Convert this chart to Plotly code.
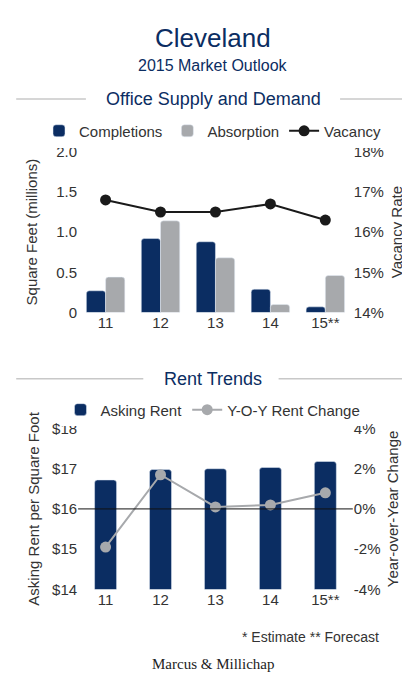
import plotly.graph_objects as go

years = ["11", "12", "13", "14", "15**"]
completions = [0.27, 0.92, 0.88, 0.29, 0.07]
absorption = [0.44, 1.14, 0.68, 0.10, 0.46]
vacancy = [16.8, 16.5, 16.5, 16.7, 16.3]
asking_rent = [16.72, 16.98, 17.00, 17.03, 17.18]
yoy_change = [-1.9, 1.7, 0.1, 0.2, 0.8]

NAVY = "#0b2d62"
GRAY = "#a7a9ac"
TXT = "#333333"
F = "Liberation Sans"

fig = go.Figure()
fig.add_bar(x=years, y=completions, name="Completions", marker_color=NAVY, xaxis="x", yaxis="y", legend="legend")
fig.add_bar(x=years, y=absorption, name="Absorption", marker_color=GRAY, xaxis="x", yaxis="y", legend="legend")
fig.add_scatter(x=years, y=vacancy, name="Vacancy", mode="lines+markers", line=dict(color="#1a1a1a", width=2),
                marker=dict(size=11, color="#1a1a1a"), xaxis="x", yaxis="y2", legend="legend")
fig.add_bar(x=years, y=asking_rent, name="Asking Rent", marker_color=NAVY, width=0.4,
            xaxis="x2", yaxis="y3", legend="legend2")
fig.add_scatter(x=years, y=yoy_change, name="Y-O-Y Rent Change", mode="lines+markers",
                line=dict(color=GRAY, width=2), marker=dict(size=11, color=GRAY), xaxis="x2", yaxis="y4", legend="legend2")

tick = dict(family=F, size=15, color=TXT)
tt = dict(family=F, size=15, color=TXT)
xd = [0.171, 0.841]
fig.update_layout(
    width=410, height=684, margin=dict(l=0, r=0, t=0, b=0),
    paper_bgcolor="white", plot_bgcolor="white", font=dict(family=F, color=TXT),
    barmode="group", bargap=0.3, bargroupgap=0.0, barcornerradius=3,
    xaxis=dict(domain=xd, anchor="y", tickfont=tick, showgrid=False, ticks=""),
    yaxis=dict(domain=[0.557, 0.798], range=[0, 2], tickvals=[0, 0.5, 1, 1.5, 2], ticktext=["0", "0.5", "1.0", "1.5", "2.0"],
               tickfont=tick, showgrid=False, zeroline=False, title=dict(text="Square Feet (millions)", font=tt, standoff=14)),
    yaxis2=dict(overlaying="y", side="right", anchor="x", range=[14, 18], tickvals=[14, 15, 16, 17, 18],
                ticktext=["14%", "15%", "16%", "17%", "18%"], tickfont=tick, showgrid=False, zeroline=False,
                title=dict(text="Vacancy Rate", font=tt, standoff=8)),
    xaxis2=dict(domain=xd, anchor="y3", tickfont=tick, showgrid=False, ticks=""),
    yaxis3=dict(domain=[0.142, 0.383], range=[14, 18], tickvals=[14, 15, 16, 17, 18], ticktext=["$14", "$15", "$16", "$17", "$18"],
                tickfont=tick, showgrid=False, zeroline=False, anchor="x2",
                title=dict(text="Asking Rent per Square Foot", font=tt, standoff=8)),
    yaxis4=dict(overlaying="y3", side="right", anchor="x2", range=[-4, 4], tickvals=[-4, -2, 0, 2, 4],
                ticktext=["-4%", "-2%", "0%", "2%", "4%"], tickfont=tick, showgrid=False, zeroline=False,
                title=dict(text="Year-over-Year Change", font=tt, standoff=8)),
    legend=dict(orientation="h", x=0.5, xanchor="center", y=1 - 100 / 684, yanchor="top", font=dict(family=F, size=15, color=TXT),
                traceorder="normal", itemwidth=30),
    legend2=dict(orientation="h", x=0.5, xanchor="center", y=1 - 386 / 684, yanchor="top", font=dict(family=F, size=15, color=TXT),
                 itemwidth=30),
)
ann = [
    dict(text="Cleveland", x=0.5, y=1 - 22 / 684, size=26, color=NAVY),
    dict(text="2015 Market Outlook", x=0.5, y=1 - 50 / 684, size=16, color=NAVY),
    dict(text="Office Supply and Demand", x=0.5, y=1 - 84 / 684, size=18, color=NAVY),
    dict(text="Rent Trends", x=0.5, y=1 - 371 / 684, size=18, color=NAVY),
    dict(text="* Estimate ** Forecast", x=0.91, y=1 - 636 / 684, size=14, color=TXT, xanchor="right"),
    dict(text="Marcus & Millichap", x=0.5, y=1 - 664 / 684, size=15, color="#222", font="Liberation Serif"),
]
for a in ann:
    fig.add_annotation(text=a["text"], x=a["x"], y=a["y"], xref="paper", yref="paper", showarrow=False,
                       xanchor=a.get("xanchor", "center"), yanchor="middle",
                       font=dict(family=a.get("font", F), size=a["size"], color=a["color"]))
for y, x0, x1 in [(84, 0.02, 0.19), (84, 0.81, 0.98), (371, 0.02, 0.33), (371, 0.66, 0.98)]:
    fig.add_shape(type="line", xref="paper", yref="paper", x0=x0, x1=x1, y0=1 - y / 684, y1=1 - y / 684,
                  line=dict(color="#c8c8c8", width=1.5))
fig.add_shape(type="line", xref="x2 domain", yref="y3", x0=0, x1=1, y0=16, y1=16, line=dict(color="#111", width=1))
fig.write_html("out.html")
